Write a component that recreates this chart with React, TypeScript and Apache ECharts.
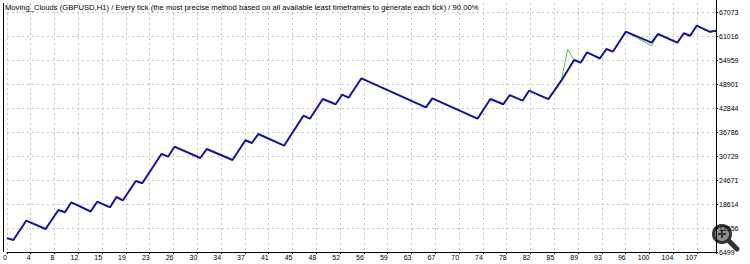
import React, { useEffect, useRef } from "react";
import * as echarts from "echarts";

const titleText =
  "Moving_Clouds (GBPUSD,H1) / Every tick (the most precise method based on all available least timeframes to generate each tick) / 90.00%";

const xTickLabels = ["0","4","8","12","15","19","23","26","30","34","37","41","45","48","52","56","59","63","67","70","74","78","82","85","89","93","96","100","104","107"];
const yTickLabels = ["6499","12556","18614","24671","30729","36786","42844","48901","54959","61016","67073"];

const balanceTrades = [0,1,3,6,8,9,10,13,14,16,17,18,20,21,24,25,26,30,31,35,37,38,39,43,46,47,49,51,52,53,55,65,66,73,75,77,78,80,81,84,86,88,89,90,92,93,94,96,100,101,104,105,106,107,109,110];
const balanceValues = [10000,9528,14399,12304,17100,16519,19043,16721,19195,17781,20381,19548,24419,23839,31285,30553,33077,30225,32496,29721,34692,34011,36282,33329,40901,40144,45116,43779,46201,45444,50341,43021,45293,40144,45116,43779,46075,44688,47212,45066,49735,54960,54278,56903,55389,57736,57055,62103,59326,61522,59326,61699,61094,63617,62103,62355];

const equityTrades = [0,1,3,6,8,9,10,13,14,16,17,18,20,21,24,25,26,30,31,35,37,38,39,43,46,47,49,51,52,53,55,65,66,73,75,77,78,80,81,84,86,87,88,89,90,92,93,94,96,100,101,104,105,106,107,109,110];
const equityValues = [10000,9528,14399,12304,17100,16519,19043,16721,19195,17781,20381,19548,24419,23839,31285,30553,33077,30225,32496,29721,34692,34011,36282,33329,40901,40144,45116,43779,46201,45444,50341,43021,45293,40144,45116,43779,46075,44688,47212,45066,49735,57662,54960,54278,56903,55100,57736,57055,62103,58493,61522,59326,61699,61094,63617,61950,62355];

const X_MAX = 110;
const X_STEP = 3.692;
const Y_MIN = 6499;
const Y_STEP = 6057.4;
const Y_UNITS = 10.375;

export default function App() {
  const ref = useRef<HTMLDivElement>(null);
  useEffect(() => {
    if (!ref.current) return;
    const chart = echarts.init(ref.current, null, { renderer: "svg" });
    const gridColor = "#c6c6c6";
    const ySplitColors: string[] = [];
    for (let i = 0; i < 11; i++) ySplitColors.push(gridColor);
    ySplitColors.push("rgba(0,0,0,0)");
    chart.setOption({
      animation: false,
      backgroundColor: "#ffffff",
      grid: { left: 3, top: 3, width: 713, height: 249, containLabel: false },
      xAxis: {
        type: "value",
        min: 0,
        max: X_MAX,
        interval: X_STEP,
        axisLine: { show: true, lineStyle: { color: "#000", width: 1 } },
        axisTick: { show: true, length: 2, lineStyle: { color: "#000" } },
        axisLabel: {
          margin: 2,
          align: "right",
          fontSize: 7,
          fontFamily: "Liberation Sans",
          color: "#000",
          formatter: (v: number) => {
            const i = Math.round(v / X_STEP);
            if (Math.abs(v - i * X_STEP) > 0.01) return "";
            return xTickLabels[i] ?? "";
          },
        },
        splitLine: { show: true, lineStyle: { color: gridColor, type: [2, 3], width: 1 } },
      },
      yAxis: [
        {
          type: "value",
          min: Y_MIN,
          max: Y_MIN + Y_UNITS * Y_STEP,
          show: false,
          splitLine: { show: false },
        },
        {
          type: "value",
          position: "right",
          min: 0,
          max: Y_UNITS,
          interval: 1,
          axisLine: { show: true, lineStyle: { color: "#000", width: 1 } },
          axisTick: { show: true, length: 2, lineStyle: { color: "#000" } },
          axisLabel: {
            margin: 3,
            fontSize: 7,
            fontFamily: "Liberation Sans",
            color: "#000",
            showMaxLabel: false,
            formatter: (v: number) => {
              const i = Math.round(v);
              if (Math.abs(v - i) > 0.001) return "";
              return yTickLabels[i] ?? "";
            },
          },
          splitLine: { show: true, lineStyle: { color: ySplitColors, type: [2, 3], width: 1 } },
        },
      ],
      series: [
        {
          type: "line",
          yAxisIndex: 0,
          showSymbol: false,
          data: equityTrades.map((t, i) => [t, equityValues[i]]),
          lineStyle: { color: "#3fcc3f", width: 1 },
          itemStyle: { color: "#3fcc3f" },
          z: 2,
        },
        {
          type: "line",
          yAxisIndex: 0,
          showSymbol: false,
          data: balanceTrades.map((t, i) => [t, balanceValues[i]]),
          lineStyle: { color: "#14149c", width: 2 },
          itemStyle: { color: "#14149c" },
          z: 3,
        },
      ],
      graphic: [
        {
          type: "line",
          shape: { x1: 3.5, y1: 3, x2: 3.5, y2: 252 },
          style: { stroke: "#000", lineWidth: 1 },
          z: 10,
        },
        {
          type: "line",
          shape: { x1: 716.5, y1: 0, x2: 716.5, y2: 4 },
          style: { stroke: "#000", lineWidth: 1 },
          z: 10,
        },
        {
          type: "text",
          left: 5,
          top: 3,
          style: { text: titleText, fontSize: 7.65, fontFamily: "Liberation Sans", fill: "#000" },
          z: 20,
        },
        {
          type: "group",
          z: 30,
          children: [
            {
              type: "line",
              shape: { x1: 728, y1: 240, x2: 737, y2: 249 },
              style: { stroke: "#333", lineWidth: 5, lineCap: "round" },
            },
            {
              type: "circle",
              shape: { cx: 722, cy: 234, r: 8.5 },
              style: { fill: "#909090", stroke: "#333", lineWidth: 3 },
            },
            {
              type: "line",
              shape: { x1: 718, y1: 234, x2: 726, y2: 234 },
              style: { stroke: "#333", lineWidth: 2 },
            },
            {
              type: "line",
              shape: { x1: 722, y1: 230, x2: 722, y2: 238 },
              style: { stroke: "#333", lineWidth: 2 },
            },
          ],
        },
      ],
    });
    return () => chart.dispose();
  }, []);
  return (
    <div
      ref={ref}
      style={{ position: "fixed", left: 0, top: 0, width: 750, height: 264, background: "#fff" }}
    />
  );
}
